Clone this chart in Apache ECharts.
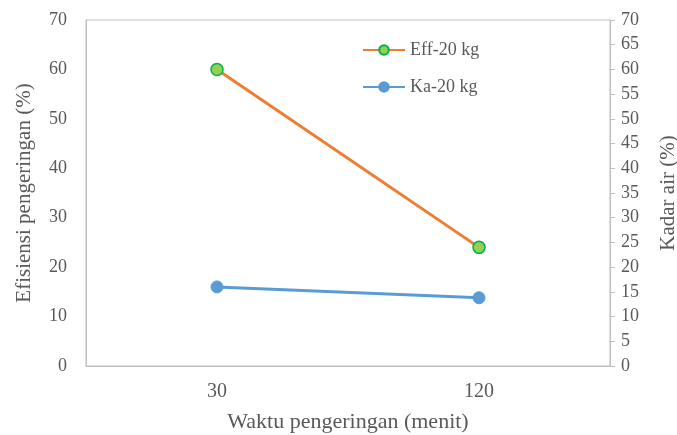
<!DOCTYPE html>
<html><head><meta charset="utf-8">
<script src="https://cdn.jsdelivr.net/npm/echarts@6/dist/echarts.min.js"></script>
<style>html,body{margin:0;padding:0;background:#fff}#c{width:677px;height:435px}</style>
</head><body><div id="c"></div>
<script>
const categories = ['30', '120'];
const effValues = [60, 24];
const kaValues = [16, 13.8];
const leftTicks = [0, 70, 10];
const rightTicks = [0, 70, 5];

const font = 'Liberation Serif, Times New Roman, serif';
const txt = '#595959';
const axisCol = '#bfbfbf';
const chart = echarts.init(document.getElementById('c'));
chart.setOption({
  animation: false,
  textStyle: { fontFamily: font },
  grid: { left: 86, right: 67, top: 20, bottom: 69, outerBoundsMode: 'none', containLabel: false,
          show: true, borderColor: axisCol, borderWidth: 1, backgroundColor: 'transparent' },
  legend: {
    orient: 'vertical', left: 357, top: 35, itemGap: 17, itemWidth: 42, itemHeight: 12,
    textStyle: { fontFamily: font, fontSize: 18, color: txt, lineHeight: 20 },
    data: ['Eff-20 kg', 'Ka-20 kg']
  },
  xAxis: {
    type: 'category', data: categories, boundaryGap: true,
    axisLine: { lineStyle: { color: axisCol } }, axisTick: { show: false },
    axisLabel: { fontFamily: font, fontSize: 20, color: txt, margin: 16 },
    name: 'Waktu pengeringan (menit)', nameLocation: 'middle', nameGap: 45,
    nameTextStyle: { fontFamily: font, fontSize: 22, color: txt }
  },
  yAxis: [{
    type: 'value', min: leftTicks[0], max: leftTicks[1], interval: leftTicks[2],
    axisLine: { show: true, lineStyle: { color: axisCol } }, axisTick: { show: false },
    splitLine: { show: false },
    axisLabel: { fontFamily: font, fontSize: 18, color: txt, margin: 19 },
    name: 'Efisiensi pengeringan (%)', nameLocation: 'middle', nameGap: 51, nameRotate: 90,
    nameTextStyle: { fontFamily: font, fontSize: 21, color: txt }
  }, {
    type: 'value', position: 'right', min: rightTicks[0], max: rightTicks[1], interval: rightTicks[2],
    axisLine: { show: true, lineStyle: { color: axisCol } },
    axisTick: { show: true, length: 5, lineStyle: { color: axisCol } },
    splitLine: { show: false },
    axisLabel: { fontFamily: font, fontSize: 18, color: txt, margin: 11 },
    name: 'Kadar air (%)', nameLocation: 'middle', nameGap: 48, nameRotate: 90,
    nameTextStyle: { fontFamily: font, fontSize: 21, color: txt }
  }],
  series: [{
    name: 'Eff-20 kg', type: 'line', yAxisIndex: 0, data: effValues,
    symbol: 'circle', symbolSize: 12,
    lineStyle: { color: '#ED7D31', width: 3 },
    itemStyle: { color: '#92D050', borderColor: '#00B050', borderWidth: 1.5 }
  }, {
    name: 'Ka-20 kg', type: 'line', yAxisIndex: 1, data: kaValues,
    symbol: 'circle', symbolSize: 12,
    lineStyle: { color: '#5B9BD5', width: 3 },
    itemStyle: { color: '#5B9BD5', borderColor: '#5B9BD5', borderWidth: 1 }
  }]
});
</script></body></html>
